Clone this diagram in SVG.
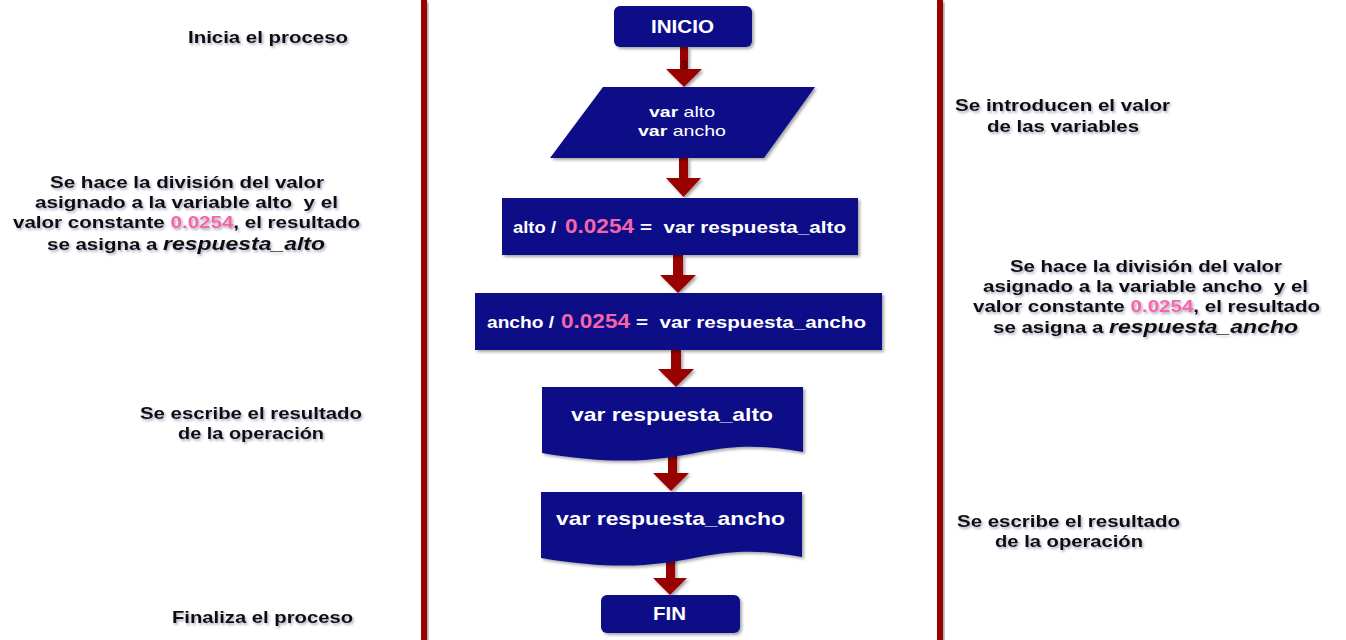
<svg xmlns="http://www.w3.org/2000/svg" width="1346" height="640" viewBox="0 0 1346 640">
<defs>
<filter id="sh" x="-10%" y="-10%" width="130%" height="140%"><feDropShadow dx="2" dy="2" stdDeviation="1.5" flood-color="#000" flood-opacity="0.35"/></filter>
<filter id="tsh" x="-5%" y="-20%" width="115%" height="160%"><feDropShadow dx="1.5" dy="2" stdDeviation="1.3" flood-color="#3a3a70" flood-opacity="0.4"/></filter>
<style>
.box{fill:#0e0c88;filter:url(#sh)}
.bt{font-family:"Liberation Sans",Arial,sans-serif;font-weight:bold;fill:#fff}
.note{font-family:"Liberation Sans",Arial,sans-serif;font-weight:bold;font-size:16.5px;fill:#111;filter:url(#tsh)}
.pk{fill:#f565a8}
.arr{fill:#990000;filter:url(#sh)}
.rail{fill:#9a0000;filter:url(#sh)}
</style>
</defs>
<rect width="1346" height="640" fill="#fff"/>
<rect class="rail" x="421" y="0" width="6" height="640"/>
<rect class="rail" x="937" y="0" width="6" height="640"/>

<g id="connectors">
<path class="arr" d="M680 47 H688 V69 H702 L684 87 L666 69 H680 Z"/>
<path class="arr" d="M679 158 H688 V178 H701 L683.5 197 L666 178 H679 Z"/>
<path class="arr" d="M673 255 H683 V275 H696 L678 293 L660 275 H673 Z"/>
<path class="arr" d="M671 350 H681 V369 H694 L676 387 L658 369 H671 Z"/>
<path class="arr" d="M668 454 H677 V473 H689 L671 491 L653 473 H668 Z"/>
<path class="arr" d="M666 558 H675 V578 H687 L670 595 L653 578 H666 Z"/>
</g>
<text x="684" y="69" font-family="Liberation Sans,Arial,sans-serif" font-size="10" fill="#1a0000" text-anchor="middle">3</text>

<g id="inicio">
<rect class="box" x="614" y="6" width="138" height="41" rx="6"/>
<text class="bt" x="651" y="33" font-size="18" textLength="63" lengthAdjust="spacingAndGlyphs">INICIO</text>
</g>
<g id="entrada">
<path class="box" d="M603 87 H815 L764 158 H550 Z"/>
<text class="bt" x="649" y="117" font-size="15" textLength="66" lengthAdjust="spacingAndGlyphs"><tspan>var</tspan><tspan font-weight="normal"> alto</tspan></text>
<text class="bt" x="638" y="136" font-size="15" textLength="88" lengthAdjust="spacingAndGlyphs"><tspan>var</tspan><tspan font-weight="normal"> ancho</tspan></text>
</g>
<g id="proc_alto">
<rect class="box" x="502" y="198" width="356" height="57"/>
<text class="bt" x="513" y="233" font-size="17" textLength="43" lengthAdjust="spacingAndGlyphs">alto /</text>
<text class="bt pk" x="565" y="233" font-size="20" textLength="69" lengthAdjust="spacingAndGlyphs">0.0254</text>
<text class="bt" x="640" y="233" font-size="17" textLength="206" lengthAdjust="spacingAndGlyphs" xml:space="preserve">=  var respuesta_alto</text>
</g>
<g id="proc_ancho">
<rect class="box" x="475" y="293" width="407" height="57"/>
<text class="bt" x="487" y="328" font-size="17" textLength="67" lengthAdjust="spacingAndGlyphs">ancho /</text>
<text class="bt pk" x="561" y="328" font-size="20" textLength="69" lengthAdjust="spacingAndGlyphs">0.0254</text>
<text class="bt" x="636" y="328" font-size="17" textLength="230" lengthAdjust="spacingAndGlyphs" xml:space="preserve">=  var respuesta_ancho</text>
</g>
<g id="salida_alto">
<path class="box" d="M542 387 H803 V452 C770 446 740 444 700 452 C660 460 620 466 542 453 Z"/>
<text class="bt" x="571" y="421" font-size="19" textLength="202" lengthAdjust="spacingAndGlyphs">var respuesta_alto</text>
</g>
<g id="salida_ancho">
<path class="box" d="M541 492 H802 V557 C769 551 739 549 699 557 C659 565 619 571 541 558 Z"/>
<text class="bt" x="556" y="525" font-size="19" textLength="229" lengthAdjust="spacingAndGlyphs">var respuesta_ancho</text>
</g>
<g id="fin">
<rect class="box" x="601" y="595" width="139" height="38" rx="6"/>
<text class="bt" x="653" y="620" font-size="18" textLength="33" lengthAdjust="spacingAndGlyphs">FIN</text>
</g>

<g id="notas">
<text class="note" x="188" y="43" textLength="160" lengthAdjust="spacingAndGlyphs">Inicia el proceso</text>
<text class="note" x="955" y="111" textLength="215" lengthAdjust="spacingAndGlyphs">Se introducen el valor</text>
<text class="note" x="987" y="132" textLength="152" lengthAdjust="spacingAndGlyphs">de las variables</text>
<text class="note" x="50" y="188" textLength="274" lengthAdjust="spacingAndGlyphs">Se hace la división del valor</text>
<text class="note" x="35" y="208" textLength="303" lengthAdjust="spacingAndGlyphs" xml:space="preserve">asignado a la variable alto  y el</text>
<text class="note" x="13" y="228" textLength="347" lengthAdjust="spacingAndGlyphs">valor constante <tspan class="pk">0.0254</tspan>, el resultado</text>
<text class="note" x="47" y="250" textLength="278" lengthAdjust="spacingAndGlyphs">se asigna a <tspan font-style="italic" font-size="18.5">respuesta_alto</tspan></text>
<text class="note" x="1010" y="272" textLength="272" lengthAdjust="spacingAndGlyphs">Se hace la división del valor</text>
<text class="note" x="983" y="292" textLength="325" lengthAdjust="spacingAndGlyphs" xml:space="preserve">asignado a la variable ancho  y el</text>
<text class="note" x="973" y="312" textLength="347" lengthAdjust="spacingAndGlyphs">valor constante <tspan class="pk">0.0254</tspan>, el resultado</text>
<text class="note" x="993" y="333" textLength="305" lengthAdjust="spacingAndGlyphs">se asigna a <tspan font-style="italic" font-size="18.5">respuesta_ancho</tspan></text>
<text class="note" x="140" y="419" textLength="222" lengthAdjust="spacingAndGlyphs">Se escribe el resultado</text>
<text class="note" x="178" y="439" textLength="146" lengthAdjust="spacingAndGlyphs">de la operación</text>
<text class="note" x="957" y="527" textLength="223" lengthAdjust="spacingAndGlyphs">Se escribe el resultado</text>
<text class="note" x="995" y="547" textLength="148" lengthAdjust="spacingAndGlyphs">de la operación</text>
<text class="note" x="172" y="623" textLength="181" lengthAdjust="spacingAndGlyphs">Finaliza el proceso</text>
</g>
</svg>
